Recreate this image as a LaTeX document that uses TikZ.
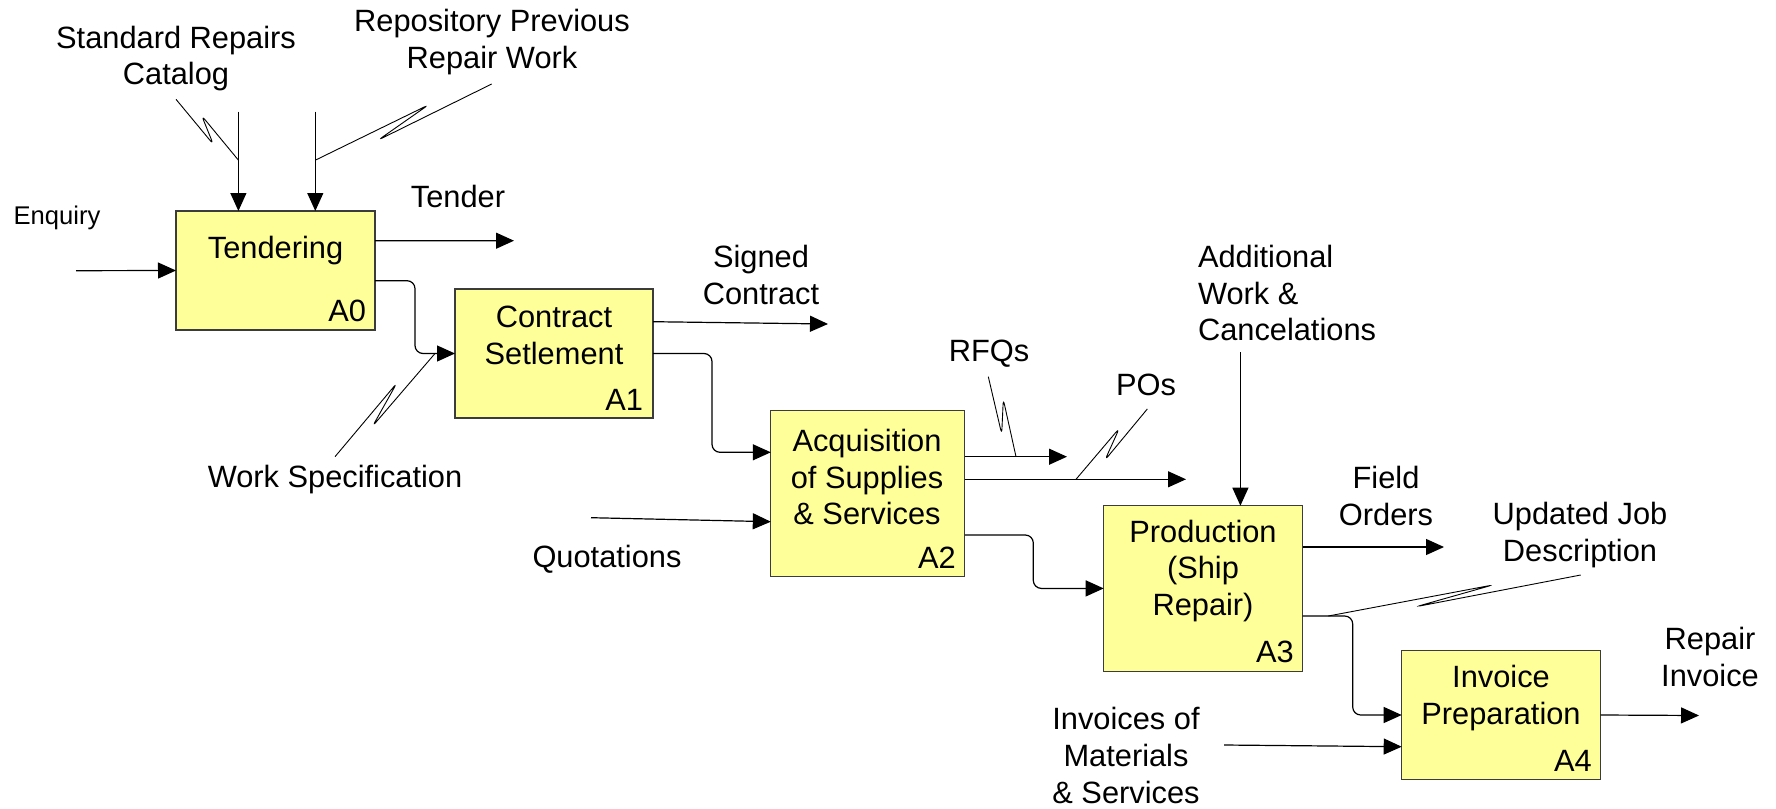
\documentclass[tikz,border=0pt]{standalone}
\usepackage{fontspec}
\setmainfont{Liberation Sans}
\usetikzlibrary{arrows.meta}
\definecolor{boxfill}{RGB}{255,255,153}
\definecolor{boxline}{RGB}{60,60,60}
\begin{document}
\begin{tikzpicture}[x=0.5pt,y=-0.5pt,
  every node/.style={inner sep=0pt, outer sep=0pt},
  txt/.style={font=\fontsize{15.4pt}{18.4pt}\selectfont, align=center},
  small/.style={font=\fontsize{12.8pt}{15pt}\selectfont},
  box/.style={draw=boxline, fill=boxfill, line width=0.6pt, minimum width=99.5pt},
  num/.style={font=\fontsize{15.4pt}{18.4pt}\selectfont, anchor=south east},
  flow/.style={draw=black, line width=0.6pt, -{Triangle[length=9pt,width=8pt]}},
  elbow/.style={flow, rounded corners=4pt},
  squig/.style={draw=black, line width=0.45pt, rounded corners=2.5pt},
]
\useasboundingbox (0,0) rectangle (1776,808);

% activity boxes
\node[box, minimum height=59.5pt] (a0) at (275.5,270.5) {};
\node[box, minimum height=64.5pt, minimum width=99pt] (a1) at (554,353.5) {};
\node[box, minimum height=83pt, minimum width=97pt] (a2) at (867.8,493.7) {};
\node[box, minimum height=82.7pt] (a3) at (1203.2,588.4) {};
\node[box, minimum height=64.3pt] (a4) at (1501.2,715) {};

% box titles and numbers
\node[txt] (t0) at (275.5,251) {Tendering};
\node[txt] (t1) at (554,335) {Contract\\Setlement};
\node[txt] (t2) at (867,477) {Acquisition\\of Supplies\\\& Services};
\node[txt] (t3) at (1203,571) {Production\\(Ship\\Repair)};
\node[txt] (t4) at (1501,698) {Invoice\\Preparation};
\node[num] (n0) at ([xshift=-4.5pt,yshift=4pt]a0.south east) {A0};
\node[num] (n1) at ([xshift=-5pt,yshift=4pt]a1.south east) {A1};
\node[num] (n2) at ([xshift=-4.5pt,yshift=4pt]a2.south east) {A2};
\node[num] (n3) at ([xshift=-4.5pt,yshift=4pt]a3.south east) {A3};
\node[num] (n4) at ([xshift=-4.5pt,yshift=4pt]a4.south east) {A4};

% arrow labels
\node[small] (lenq) at (57,218) {Enquiry};
\node[txt] (lstd) at (176,58.5) {Standard Repairs\\Catalog};
\node[txt] (lrep) at (492,42) {Repository Previous\\Repair Work};
\node[txt] (ltend) at (458,196) {Tender};
\node[txt] (lsc) at (761,275) {Signed\\Contract};
\node[txt] (lws) at (335,480) {Work Specification};
\node[txt] (lquo) at (607,559) {Quotations};
\node[txt] (lrfq) at (989,354) {RFQs};
\node[txt] (lpo) at (1146,385) {POs};
\node[txt, align=left, anchor=west] (ladd) at (1198,293) {Additional\\Work \&\\Cancelations};
\node[txt] (lfo) at (1386,496) {Field\\Orders};
\node[txt] (lupd) at (1580,535) {Updated Job\\Description};
\node[txt] (lri) at (1710,657) {Repair\\Invoice};
\node[txt] (linv) at (1126,755.5) {Invoices of\\Materials\\\& Services};

% free arrow ends
\coordinate (enq) at (76,270.7);
\coordinate (tend) at (514,240.7);
\coordinate (src) at (238.4,111.7);
\coordinate (rpc) at (315.3,111.7);
\coordinate (sc) at (828,324);
\coordinate (quo) at (591,517.7);
\coordinate (rfq) at (1067,456.7);
\coordinate (po) at (1186,479.3);
\coordinate (add) at (1240.4,352.3);
\coordinate (fo) at (1444,547);
\coordinate (ri) at (1699,715.5);
\coordinate (inv) at (1224,745);

% inputs, controls, outputs
\draw[flow] (enq) -- (a0.west);
\draw[flow] ([yshift=14.9pt]a0.east) -- (tend);
\draw[flow] (src) -- ([xshift=-18.55pt]a0.north);
\draw[flow] (rpc) -- ([xshift=19.9pt]a0.north);
\draw[flow] ([yshift=15.9pt]a1.east) -- (sc);
\draw[flow] (quo) -- ([yshift=-14pt]a2.west);
\draw[flow] ([yshift=18.5pt]a2.east) -- (rfq);
\draw[flow] ([yshift=7.2pt]a2.east) -- (po);
\draw[flow] (add) -- ([xshift=18.6pt]a3.north);
\draw[flow] ([yshift=20.7pt]a3.east) -- (fo);
\draw[flow] (a4.east) -- (ri);
\draw[flow] (inv) -- ([yshift=-15.85pt]a4.west);

% links between activities
\draw[elbow] ([yshift=-5.1pt]a0.east) -- ++(40,0) |- (a1.west);
\draw[elbow] (a1.east) -- ++(59,0) |- ([yshift=20.7pt]a2.west);
\draw[elbow] ([yshift=-20.65pt]a2.east) -- ++(68.5,0) |- (a3.west);
\draw[elbow] ([yshift=-13.8pt]a3.east) -- ++(50,0) |- (a4.west);

% label leaders
\draw[squig] (176,99.3) -- (213.3,144.3) -- (201.7,115.7) -- (238.3,160);
\draw[squig] (491.7,84) -- (378.3,140) -- (428.3,105) -- (315.7,160);
\draw[squig] (335,456.7) -- (396.7,383.3) -- (372.7,426) -- (435,353.5);
\draw[squig] (988.3,376.7) -- (1001.7,434) -- (1003.3,399.3) -- (1016,456.7);
\draw[squig] (1147.3,409) -- (1105,460) -- (1119.3,428.3) -- (1076,479.3);
\draw[squig] (1580.7,575) -- (1416,606.7) -- (1492.7,585) -- (1328.3,616);
\end{tikzpicture}
\end{document}
